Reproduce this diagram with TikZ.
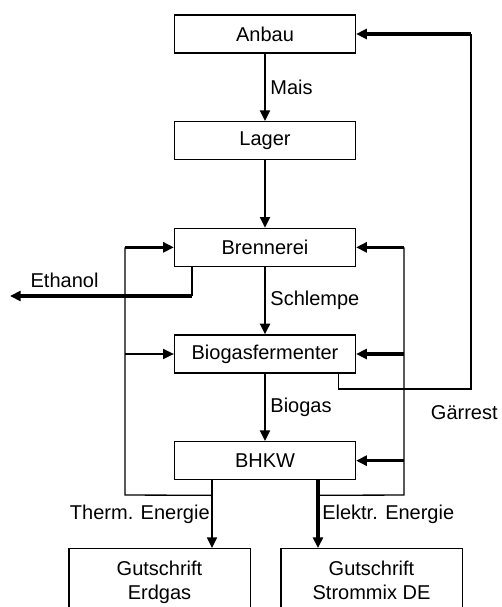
\documentclass[tikz,border=0pt]{standalone}
\usepackage{fontspec}
\setmainfont{Liberation Sans}
\usetikzlibrary{arrows.meta}
\usetikzlibrary{calc}
\usetikzlibrary{positioning}

\tikzset{
  stage/.style={draw, line width=1pt, minimum width=135.75pt, minimum height=28.5pt,
    inner sep=0pt, font=\fontsize{15}{18}\selectfont},
  credit/.style={draw, line width=1pt, minimum width=136pt, align=center, anchor=north,
    inner xsep=0pt, inner ysep=9pt, font=\fontsize{15}{18}\selectfont},
  lbl/.style={font=\fontsize{15}{18}\selectfont},
  flow/.style={->, line width=1.5pt},
  thinline/.style={line width=1pt},
  heavy/.style={line width=2.4pt},
}

\begin{document}
\begin{tikzpicture}[x=0.75pt, y=0.75pt, >={Triangle[length=8pt,width=7.5pt]}, node distance=80pt]
		\useasboundingbox (0,0) rectangle (502,-607);
		\node[stage] (anbau) at (265,-34) {Anbau};
		\node[stage] (lager) [below of=anbau] {Lager};
		\node[stage] (brennerei) [below of=lager] {Brennerei};
		\node[stage] (ferm) [below of=brennerei] {Biogasfermenter};
		\node[stage] (bhkw) [below of=ferm] {BHKW};
		\node[credit] (erdgas) at (159.5,-548) {Gutschrift\\Erdgas};
		\node[credit] (strom) at (371.5,-548) {Gutschrift\\Strommix DE};
		% main chain
		\draw[flow] (anbau) -- node[lbl,right] (mais) {Mais} (lager);
		\draw[flow] (lager) -- (brennerei);
		\draw[flow] (brennerei) -- node[lbl,right] (schlempe) {Schlempe} (ferm);
		\draw[flow] (ferm) -- node[lbl,right] (biogas) {Biogas} (bhkw);
		% outputs of the BHKW
		\coordinate (heat) at ($(bhkw.south)+(-53,0)$);
		\coordinate (power) at ($(bhkw.south)+(53,0)$);
		\coordinate (heatsplit) at ($(heat)+(0,-15)$);
		\coordinate (powersplit) at ($(power)+(0,-15)$);
		\coordinate (leftbus) at (125,-495);
		\coordinate (rightbus) at (404,-495);
		\draw[flow] (heat) -- node[lbl,left,inner sep=1pt] (therm) {Therm. Energie} (heat |- erdgas.north);
		\draw[heavy,->] (power) -- node[lbl,right,inner sep=2pt] (elektr) {Elektr. Energie} (power |- strom.north);
		% heat back to the plant
		\draw[thinline] (heatsplit) -- (leftbus) -- (leftbus |- brennerei.west);
		\draw[heavy,->] (leftbus |- brennerei.west) -- (brennerei.west);
		\draw[thinline,->] (leftbus |- ferm.west) -- (ferm.west);
		% power back to the plant
		\draw[thinline] (powersplit) -- (rightbus) -- (rightbus |- brennerei.east);
		\draw[heavy,->] (rightbus |- brennerei.east) -- (brennerei.east);
		\draw[heavy,->] (rightbus |- ferm.east) -- (ferm.east);
		\draw[heavy,->] (rightbus |- bhkw.east) -- (bhkw.east);
		% Gaerrest to the field
		\coordinate (digestate) at ($(ferm.south east)+(-18,0)$);
		\coordinate (fieldbus) at (471,-389);
		\draw[thinline] (digestate) |- (fieldbus) -- (fieldbus |- anbau.east);
		\draw[heavy,->] (fieldbus |- anbau.east) -- (anbau.east);
		\node[lbl,below,xshift=-5pt,yshift=-9pt] (gaerrest) at (fieldbus) {Gärrest};
		% Ethanol
		\coordinate (ethtap) at ($(brennerei.south west)+(18,0)$);
		\coordinate (ethbend) at ($(ethtap)+(0,-29)$);
		\coordinate (ethout) at (10,-294);
		\draw[thinline] (ethtap) -- (ethbend);
		\draw[heavy,->] (ethbend) -- node[lbl,above,pos=.7,yshift=2pt] (ethanol) {Ethanol} (ethbend -| ethout);
	\end{tikzpicture}
\end{document}
